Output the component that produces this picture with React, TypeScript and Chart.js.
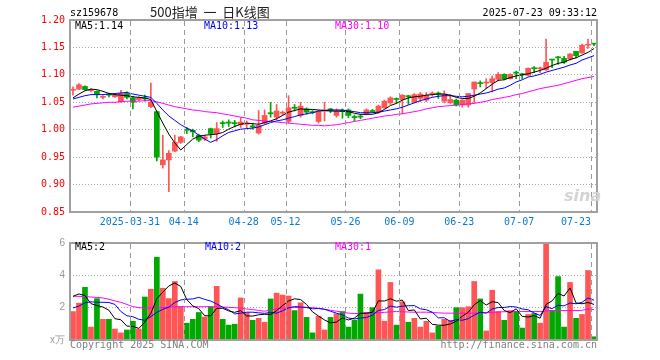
import React, { useEffect, useRef, useState } from 'react';
import { Chart, registerables } from 'chart.js';

Chart.register(...registerables);

// ---------- data ----------
const dates = [
  '03-17','03-18','03-19','03-20','03-21','03-24','03-25','03-26','03-27','03-28',
  '03-31','04-01','04-02','04-03','04-07','04-08','04-09','04-10','04-11','04-14',
  '04-15','04-16','04-17','04-18','04-21','04-22','04-23','04-24','04-25','04-28',
  '04-29','04-30','05-06','05-07','05-08','05-09','05-12','05-13','05-14','05-15',
  '05-16','05-19','05-20','05-21','05-22','05-23','05-26','05-27','05-28','05-29',
  '05-30','06-03','06-04','06-05','06-06','06-09','06-10','06-11','06-12','06-13',
  '06-16','06-17','06-18','06-19','06-20','06-23','06-24','06-25','06-26','06-27',
  '06-30','07-01','07-02','07-03','07-04','07-07','07-08','07-09','07-10','07-11',
  '07-14','07-15','07-16','07-17','07-18','07-21','07-22','07-23',
];

const tickDates = ['03-31','04-14','04-28','05-12','05-26','06-09','06-23','07-07','07-23'];
const tickTexts = ['2025-03-31','04-14','04-28','05-12','05-26','06-09','06-23','07-07','07-23     '];

const opens = [
  1.072,1.074,1.079,1.071,1.070,1.059,1.065,1.060,1.051,1.066,
  1.058,1.055,1.058,1.042,1.033,0.936,0.945,0.961,0.977,1.001,
  0.999,0.990,0.983,1.002,0.993,1.013,1.014,1.013,1.009,1.010,
  1.007,0.994,1.012,1.031,1.023,1.030,1.015,1.041,1.026,1.038,
  1.033,1.015,1.034,1.038,1.026,1.035,1.036,1.024,1.024,1.029,
  1.035,1.032,1.040,1.049,1.057,1.055,1.062,1.050,1.057,1.054,
  1.065,1.066,1.052,1.049,1.054,1.045,1.045,1.074,1.085,1.085,
  1.086,1.092,1.101,1.093,1.105,1.102,1.099,1.113,1.111,1.109,
  1.128,1.132,1.130,1.129,1.143,1.140,1.154,1.157,
];
const highs = [
  1.078,1.084,1.080,1.075,1.071,1.062,1.067,1.065,1.072,1.069,
  1.061,1.060,1.063,1.085,1.034,0.990,0.962,0.990,0.988,1.004,
  1.001,0.992,0.990,1.003,1.013,1.016,1.018,1.017,1.022,1.016,
  1.012,1.035,1.036,1.050,1.046,1.034,1.062,1.046,1.050,1.040,
  1.035,1.035,1.050,1.039,1.038,1.038,1.038,1.027,1.028,1.038,
  1.037,1.045,1.054,1.060,1.058,1.064,1.063,1.066,1.068,1.068,
  1.069,1.069,1.071,1.064,1.056,1.055,1.066,1.087,1.089,1.093,
  1.098,1.104,1.102,1.102,1.107,1.103,1.113,1.115,1.114,1.165,
  1.128,1.134,1.134,1.139,1.143,1.156,1.165,1.157,
];
const lows = [
  1.063,1.073,1.072,1.069,1.058,1.056,1.060,1.059,1.050,1.056,
  1.038,1.053,1.052,1.040,0.943,0.930,0.887,0.960,0.975,0.993,
  0.987,0.978,0.980,0.985,0.979,1.004,1.006,1.005,1.004,1.002,
  1.001,0.992,1.010,1.023,1.018,1.027,1.012,1.034,1.023,1.028,
  1.029,1.012,1.016,1.031,1.023,1.021,1.022,1.016,1.020,1.027,
  1.031,1.030,1.039,1.046,1.048,1.029,1.046,1.049,1.051,1.051,
  1.061,1.057,1.049,1.048,1.043,1.041,1.041,1.049,1.078,1.075,
  1.069,1.089,1.091,1.092,1.093,1.093,1.098,1.104,1.104,1.108,
  1.113,1.119,1.121,1.127,1.131,1.139,1.148,1.153,
];
const closes = [
  1.073,1.082,1.073,1.072,1.064,1.060,1.063,1.063,1.066,1.059,
  1.050,1.058,1.056,1.050,0.950,0.945,0.957,0.977,0.987,0.999,
  0.996,0.981,0.987,0.993,1.002,1.011,1.012,1.011,1.014,1.011,
  1.005,1.008,1.026,1.029,1.034,1.032,1.040,1.039,1.043,1.032,
  1.031,1.034,1.036,1.035,1.034,1.033,1.026,1.022,1.023,1.036,
  1.033,1.043,1.052,1.058,1.055,1.063,1.060,1.064,1.065,1.063,
  1.066,1.065,1.065,1.055,1.045,1.054,1.066,1.087,1.084,1.086,
  1.093,1.101,1.093,1.101,1.103,1.100,1.112,1.111,1.112,1.123,
  1.127,1.131,1.123,1.138,1.135,1.154,1.155,1.156,
];

const ma5 = [
  1.058,1.065,1.071,1.074,1.073,1.070,1.066,1.064,1.063,1.062,
  1.060,1.059,1.058,1.055,1.033,1.012,0.992,0.976,0.963,0.973,
  0.983,0.988,0.990,0.991,0.992,0.995,1.001,1.006,1.010,1.012,
  1.011,1.010,1.013,1.016,1.020,1.026,1.032,1.035,1.038,1.037,
  1.037,1.036,1.035,1.034,1.034,1.034,1.033,1.030,1.028,1.028,
  1.028,1.031,1.037,1.044,1.048,1.054,1.058,1.060,1.061,1.063,
  1.064,1.065,1.065,1.063,1.059,1.057,1.057,1.061,1.067,1.075,
  1.083,1.090,1.091,1.095,1.098,1.100,1.102,1.105,1.108,1.112,
  1.117,1.121,1.123,1.128,1.131,1.136,1.141,1.148,
];
const ma10 = [
  1.056,1.059,1.062,1.064,1.064,1.064,1.065,1.066,1.067,1.068,
  1.065,1.063,1.061,1.059,1.048,1.036,1.025,1.017,1.009,1.003,
  0.998,0.990,0.983,0.977,0.982,0.989,0.995,0.998,1.001,1.002,
  1.003,1.005,1.009,1.013,1.016,1.018,1.021,1.024,1.027,1.029,
  1.031,1.034,1.035,1.036,1.036,1.036,1.034,1.033,1.031,1.031,
  1.031,1.032,1.034,1.036,1.038,1.041,1.045,1.049,1.053,1.056,
  1.059,1.061,1.062,1.062,1.061,1.060,1.061,1.063,1.065,1.067,
  1.070,1.074,1.076,1.081,1.087,1.091,1.096,1.098,1.101,1.105,
  1.108,1.111,1.114,1.118,1.121,1.127,1.131,1.135,
];
const ma30 = [
  1.041,1.043,1.045,1.047,1.048,1.049,1.050,1.050,1.051,1.052,
  1.052,1.052,1.053,1.053,1.051,1.048,1.045,1.042,1.040,1.038,
  1.036,1.035,1.033,1.032,1.031,1.029,1.027,1.025,1.023,1.021,
  1.018,1.017,1.016,1.015,1.014,1.013,1.012,1.011,1.010,1.009,
  1.008,1.008,1.007,1.008,1.009,1.011,1.013,1.015,1.017,1.019,
  1.021,1.023,1.025,1.026,1.028,1.029,1.031,1.033,1.035,1.038,
  1.040,1.042,1.043,1.044,1.045,1.046,1.047,1.048,1.050,1.052,
  1.055,1.057,1.059,1.061,1.064,1.066,1.069,1.072,1.075,1.077,
  1.079,1.081,1.084,1.087,1.090,1.093,1.095,1.097,
];

const volumes = [
  1.76,2.28,3.26,0.80,2.56,1.28,1.28,0.68,0.44,0.62,
  1.16,0.68,2.66,3.14,5.12,3.20,2.56,3.62,2.06,1.04,
  1.28,1.70,1.42,2.06,3.32,1.28,0.92,0.98,2.60,1.68,
  1.22,1.34,1.10,2.54,2.90,2.78,2.72,1.82,2.30,1.40,
  0.44,1.46,0.62,1.40,1.62,1.76,0.80,1.22,2.84,1.70,
  2.00,4.34,1.16,3.56,0.92,2.36,1.10,1.34,0.80,1.16,
  0.44,0.86,1.28,1.22,2.00,2.00,2.06,3.62,2.54,0.56,
  3.08,1.76,1.22,1.82,1.76,0.74,1.58,1.64,1.04,6.00,
  1.82,3.92,0.80,3.56,1.34,1.58,4.30,0.20,
];
const volMa5 = [
  2.70,2.85,2.75,2.25,2.13,2.04,1.84,1.32,1.25,0.86,
  0.84,0.72,1.11,1.65,2.55,2.96,3.34,3.53,3.31,2.50,
  2.11,1.94,1.50,1.50,1.96,1.96,1.80,1.71,1.82,1.49,
  1.48,1.56,1.59,1.58,1.82,2.13,2.41,2.55,2.50,2.20,
  1.74,1.48,1.24,1.06,1.11,1.37,1.24,1.36,1.65,1.66,
  1.71,2.42,2.41,2.55,2.40,2.47,1.82,1.86,1.30,1.35,
  0.97,0.92,0.91,0.99,1.16,1.47,1.71,2.18,2.44,2.16,
  2.37,2.31,1.83,1.69,1.93,1.46,1.42,1.51,1.35,2.20,
  2.42,2.88,2.72,3.22,2.29,2.24,2.32,2.20,
];
const volMa10 = [
  1.98,2.10,2.30,2.36,2.34,2.33,2.32,2.20,1.76,1.50,
  1.44,1.28,1.22,1.45,1.71,1.90,2.03,2.32,2.48,2.52,
  2.54,2.64,2.51,2.41,2.23,2.03,1.87,1.61,1.66,1.72,
  1.72,1.68,1.65,1.70,1.66,1.81,1.99,2.07,2.04,2.01,
  1.93,1.95,1.90,1.78,1.66,1.55,1.36,1.30,1.36,1.39,
  1.54,1.83,1.88,2.10,2.03,2.09,2.12,2.13,1.93,1.87,
  1.72,1.37,1.38,1.15,1.26,1.22,1.32,1.54,1.72,1.66,
  1.92,2.01,2.01,2.07,2.04,1.92,1.87,1.67,1.52,2.06,
  1.94,2.15,2.11,2.29,2.24,2.33,2.60,2.46,
];
const volMa30 = [
  2.71,2.70,2.68,2.66,2.63,2.60,2.52,2.42,2.33,2.20,
  2.06,2.00,1.98,1.98,1.99,2.01,2.03,2.05,2.06,2.06,
  2.06,2.06,2.06,2.06,2.05,2.04,2.02,2.00,1.97,1.92,
  1.88,1.83,1.78,1.85,1.93,1.98,1.99,2.01,2.02,2.02,
  2.00,1.96,1.90,1.84,1.78,1.72,1.66,1.64,1.64,1.66,
  1.67,1.68,1.71,1.74,1.76,1.75,1.73,1.72,1.72,1.72,
  1.70,1.68,1.66,1.66,1.66,1.66,1.66,1.66,1.67,1.69,
  1.71,1.73,1.75,1.76,1.76,1.76,1.76,1.76,1.76,1.80,
  1.82,1.82,1.82,1.82,1.82,1.84,1.92,1.88,
];

// ---------- style ----------
const UP = '#ff5555';
const DOWN = '#00a800';
const GRID = '#aaaaaa';
const VGRID = '#9a9a9a';
const FRAME = '#a0a0a0';
const MONO = "'DejaVu Sans Mono', 'Liberation Mono', monospace";
const PRICE_H = 232;
const VOL_H = 128;

const tickIdx = tickDates.map((d) => dates.indexOf(d));
const candleColors = opens.map((o, i) => (closes[i] >= o ? UP : DOWN));

const makeFrame = () => ({
  id: 'sinaFrame',
  afterDraw(chart: any) {
    const { ctx, chartArea } = chart;
    const { left, top, right, bottom } = chartArea;
    ctx.save();
    ctx.setLineDash([]);
    ctx.strokeStyle = FRAME;
    ctx.lineWidth = 2;
    ctx.strokeRect(Math.round(left), Math.round(top), Math.round(right - left), Math.round(bottom - top));
    ctx.restore();
  },
});

// positions of the dashed date lines, taken from the chart's own category scale / bar layout
const dateLineGeometry = (chart: any, metaIndex: number, offsetY: number) => {
  const area = chart.chartArea;
  const meta = chart.getDatasetMeta(metaIndex);
  const els = meta && meta.data ? meta.data : [];
  const n = dates.length;
  const slot = (area.right - area.left) / n;
  const xs = tickIdx.map((k) => {
    let cx = els[k] ? Number(els[k].x) : NaN;
    if (!isFinite(cx)) cx = Number(chart.scales.x.getPixelForValue(k));
    if (!isFinite(cx)) cx = area.left + slot * (k + 0.5);
    return Math.round(cx - slot / 2);
  });
  return { xs, top: Math.round(area.top) + 1 + offsetY, bottom: Math.round(area.bottom) - 1 + offsetY };
};

const lineDs = (label: string, data: number[], color: string) => ({
  type: 'line' as const,
  label,
  data,
  borderColor: color,
  backgroundColor: color,
  borderWidth: 1,
  pointRadius: 0,
  tension: 0,
  order: 0,
});

type Geo = { xs: number[]; top: number; bottom: number };

export default function App() {
  const priceRef = useRef<HTMLCanvasElement | null>(null);
  const volRef = useRef<HTMLCanvasElement | null>(null);
  const [geo, setGeo] = useState<Geo[]>([]);

  useEffect(() => {
    const priceChart = new Chart(priceRef.current as HTMLCanvasElement, {
      type: 'bar',
      data: {
        labels: dates,
        datasets: [
          lineDs('MA5', ma5, '#000000'),
          lineDs('MA10', ma10, '#0000ff'),
          lineDs('MA30', ma30, '#ff00ff'),
          {
            type: 'bar',
            label: 'body',
            data: opens.map((o, i) => [Math.min(o, closes[i]), Math.max(o, closes[i])]),
            backgroundColor: candleColors,
            barThickness: 5,
            minBarLength: 1,
            grouped: false,
            order: 1,
          } as any,
          {
            type: 'bar',
            label: 'wick',
            data: lows.map((l, i) => [l, highs[i]]),
            backgroundColor: candleColors,
            barThickness: 1,
            grouped: false,
            order: 2,
          } as any,
        ],
      },
      options: {
        responsive: false,
        animation: false,
        devicePixelRatio: 1,
        layout: { padding: { left: 0, right: 63, top: 20, bottom: 0 } },
        plugins: { legend: { display: false }, tooltip: { enabled: false } },
        scales: {
          x: {
            offset: true,
            grid: { display: false, drawTicks: false },
            border: { display: false },
            ticks: {
              autoSkip: false,
              maxRotation: 0,
              minRotation: 0,
              padding: 4,
              labelOffset: -3,
              color: '#0a7ad0',
              font: { family: MONO, size: 10 },
              callback: (_v: any, i: number) => {
                const k = tickIdx.indexOf(i);
                return k >= 0 ? tickTexts[k] : '';
              },
            },
            afterFit: (s: any) => {
              s.height = 20;
            },
          },
          y: {
            min: 0.85,
            max: 1.2,
            ticks: {
              stepSize: 0.05,
              color: '#ff0000',
              padding: 5,
              font: { family: MONO, size: 10 },
              callback: (v: any) => Number(v).toFixed(2),
            },
            grid: {
              drawTicks: false,
              color: (ctx: any) => {
                const v = ctx.tick ? ctx.tick.value : 0;
                return Math.abs(v - 0.85) < 1e-6 || Math.abs(v - 1.2) < 1e-6 ? 'transparent' : GRID;
              },
            },
            border: { display: false, dash: [1, 2] },
            afterFit: (s: any) => {
              s.width = 70;
            },
          },
        },
      } as any,
      plugins: [makeFrame()],
    });

    const volChart = new Chart(volRef.current as HTMLCanvasElement, {
      type: 'bar',
      data: {
        labels: dates,
        datasets: [
          lineDs('MA5', volMa5, '#000000'),
          lineDs('MA10', volMa10, '#0000ff'),
          lineDs('MA30', volMa30, '#ff00ff'),
          {
            type: 'bar',
            label: 'volume',
            data: volumes,
            backgroundColor: candleColors,
            barThickness: 5,
            grouped: false,
            order: 1,
          } as any,
        ],
      },
      options: {
        responsive: false,
        animation: false,
        devicePixelRatio: 1,
        layout: { padding: { left: 0, right: 63, top: 8, bottom: 0 } },
        plugins: { legend: { display: false }, tooltip: { enabled: false } },
        scales: {
          x: {
            offset: true,
            grid: { display: false, drawTicks: false },
            border: { display: false },
            ticks: { display: false, autoSkip: false, maxRotation: 0 },
            afterFit: (s: any) => {
              s.height = 20;
            },
          },
          y: {
            min: 0,
            max: 6,
            ticks: {
              stepSize: 2,
              color: '#999999',
              padding: 5,
              font: { family: "'Liberation Sans', 'DejaVu Sans', sans-serif", size: 10 },
              callback: (v: any) => (Number(v) === 0 ? 'x万' : String(v)),
            },
            grid: {
              drawTicks: false,
              color: (ctx: any) => {
                const v = ctx.tick ? ctx.tick.value : 0;
                return v === 0 || v === 6 ? 'transparent' : GRID;
              },
            },
            border: { display: false, dash: [1, 2] },
            afterFit: (s: any) => {
              s.width = 70;
            },
          },
        },
      } as any,
      plugins: [makeFrame()],
    });

    setGeo([dateLineGeometry(priceChart, 3, 0), dateLineGeometry(volChart, 3, PRICE_H)]);

    return () => {
      priceChart.destroy();
      volChart.destroy();
    };
  }, []);

  const txt = (extra: React.CSSProperties): React.CSSProperties => ({
    position: 'absolute',
    fontFamily: MONO,
    fontSize: 10,
    lineHeight: '12px',
    whiteSpace: 'pre',
    ...extra,
  });

  return (
    <div
      style={{
        position: 'fixed',
        left: 0,
        top: 0,
        width: 660,
        height: 360,
        background: '#ffffff',
        overflow: 'hidden',
      }}
    >
      <canvas ref={priceRef} width={660} height={PRICE_H} style={{ position: 'absolute', left: 0, top: 0 }} />
      <canvas ref={volRef} width={660} height={VOL_H} style={{ position: 'absolute', left: 0, top: PRICE_H }} />

      {geo.map((g, gi) =>
        g.xs.map((x, j) => (
          <div
            key={gi + '-' + j}
            style={{
              position: 'absolute',
              left: x,
              top: g.top,
              width: 1,
              height: Math.max(0, g.bottom - g.top),
              backgroundImage: `repeating-linear-gradient(to bottom, ${VGRID} 0px, ${VGRID} 5px, transparent 5px, transparent 9px)`,
              pointerEvents: 'none',
            }}
          />
        ))
      )}

      <span style={txt({ left: 70, top: 7, color: '#000' })}>sz159678</span>
      <span
        style={{
          position: 'absolute',
          left: 150,
          top: 4,
          fontFamily: "'Noto Sans CJK SC', sans-serif",
          fontSize: 13,
          lineHeight: '16px',
          color: '#222',
          whiteSpace: 'pre',
        }}
      >
        {'500指增  一  日K线图'}
      </span>
      <span style={txt({ right: 63, top: 7, color: '#000' })}>2025-07-23 09:33:12</span>

      <span style={txt({ left: 75, top: 20, color: '#000' })}>MA5:1.14</span>
      <span style={txt({ left: 204, top: 20, color: '#0000ff' })}>MA10:1.13</span>
      <span style={txt({ left: 335, top: 20, color: '#ff00ff' })}>MA30:1.10</span>

      <span style={txt({ left: 75, top: 241, color: '#000' })}>MA5:2</span>
      <span style={txt({ left: 205, top: 241, color: '#0000ff' })}>MA10:2</span>
      <span style={txt({ left: 335, top: 241, color: '#ff00ff' })}>MA30:1</span>

      <span style={txt({ left: 70, top: 339, color: '#808080' })}>Copyright 2025 SINA.COM</span>
      <span style={txt({ right: 63, top: 339, color: '#808080' })}>http://finance.sina.com.cn</span>

      <span
        style={{
          position: 'absolute',
          left: 564,
          top: 187,
          fontFamily: "'DejaVu Sans', sans-serif",
          fontSize: 16,
          fontWeight: 'bold',
          fontStyle: 'italic',
          lineHeight: '18px',
          color: '#d4d4d4',
        }}
      >
        sina
      </span>
    </div>
  );
}
